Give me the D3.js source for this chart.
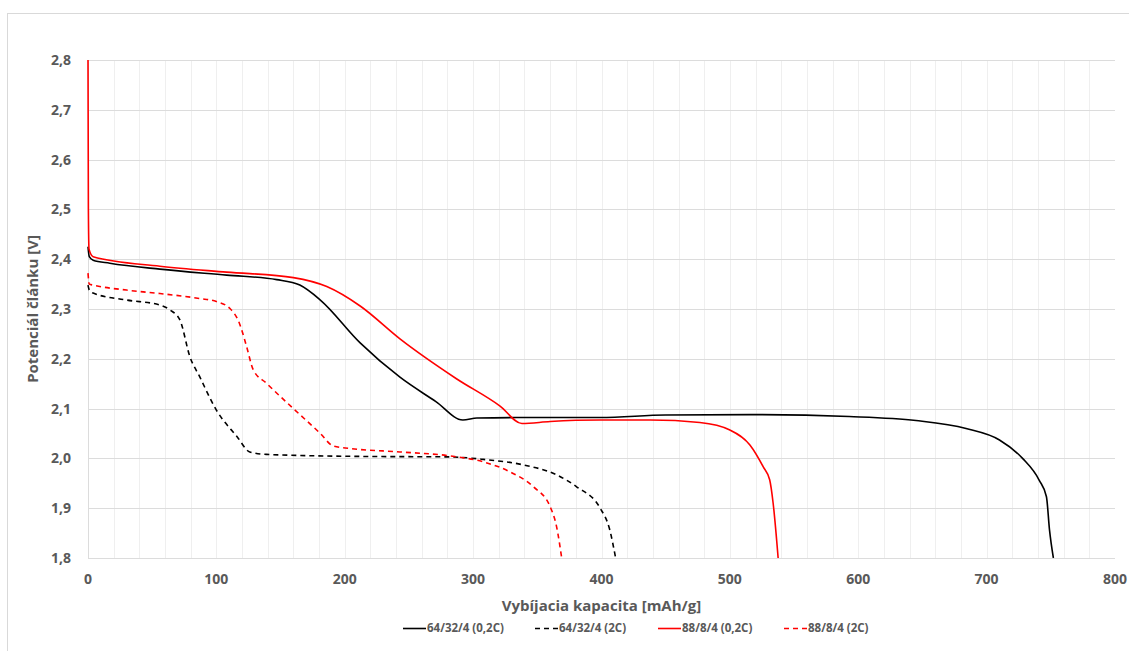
<!DOCTYPE html>
<html>
<head>
<meta charset="utf-8">
<script src="https://cdn.jsdelivr.net/npm/d3@7"></script>
<style>
  body { margin: 0; background: #fff; }
  svg { display: block; font-family: "Open Sans", "Noto Sans", sans-serif; }
</style>
</head>
<body>
<svg id="chart" width="1129" height="651"></svg>
<script>
// ---- data ----
const xTicks = [0, 100, 200, 300, 400, 500, 600, 700, 800];
const yTicks = [1.8, 1.9, 2.0, 2.1, 2.2, 2.3, 2.4, 2.5, 2.6, 2.7, 2.8];
const seriesNames = ["64/32/4 (0,2C)", "64/32/4 (2C)", "88/8/4 (0,2C)", "88/8/4 (2C)"];

const black02C = [
  [0, 2.425], [1, 2.405], [4, 2.398], [17, 2.392], [56, 2.380], [108, 2.368], [147, 2.359],
  [165, 2.348], [181, 2.318], [212, 2.232], [243, 2.163], [271, 2.114], [292, 2.077],
  [303, 2.081], [334, 2.082], [399, 2.082], [450, 2.087], [516, 2.088], [593, 2.084],
  [645, 2.076], [684, 2.060], [710, 2.037], [728, 2.000], [741, 1.956], [746.6, 1.923],
  [749, 1.856], [752, 1.800]
];
const black2C = [
  [0, 2.348], [1, 2.338], [4, 2.332], [30, 2.318], [56, 2.308], [64, 2.298], [71.6, 2.278],
  [79.4, 2.204], [87, 2.164], [100, 2.097], [116, 2.044], [126, 2.013], [139, 2.008],
  [212, 2.004], [282, 2.003], [308, 1.998], [339, 1.987], [365, 1.967], [380.6, 1.943],
  [399, 1.900], [406.5, 1.856], [411, 1.800]
];
const red02C = [
  [0, 2.800], [0.3, 2.500], [0.8, 2.420], [4, 2.405], [56, 2.386], [108, 2.374], [160, 2.363],
  [186, 2.345], [212, 2.306], [243, 2.240], [287, 2.160], [321, 2.105], [338, 2.070],
  [360, 2.074], [399, 2.077], [438, 2.077], [476.6, 2.072], [500, 2.057], [515.6, 2.027],
  [526, 1.983], [531, 1.957], [533.7, 1.910], [537.6, 1.800]
];
const red2C = [
  [0, 2.372], [1, 2.350], [4, 2.348], [30, 2.338], [56, 2.331], [87, 2.321], [100, 2.315],
  [110.6, 2.301], [118, 2.271], [123.6, 2.224], [128.7, 2.178], [139, 2.151], [160, 2.100],
  [181, 2.050], [191, 2.025], [204, 2.020], [243, 2.013], [282, 2.005], [308, 1.993],
  [328.7, 1.973], [347, 1.943], [360, 1.903], [365, 1.863], [369, 1.800]
];

const series = [
  { name: seriesNames[0], values: black02C, color: "#000000", dash: null },
  { name: seriesNames[1], values: black2C, color: "#000000", dash: "5,4" },
  { name: seriesNames[2], values: red02C, color: "#ff0000", dash: null },
  { name: seriesNames[3], values: red2C, color: "#ff0000", dash: "5,4" }
];

// ---- layout ----
const svg = d3.select("#chart");
const mLeft = 88, mRight = 1115, mTop = 60, mBottom = 558;
const x = d3.scaleLinear().domain([0, 800]).range([mLeft, mRight]);
const y = d3.scaleLinear().domain([1.8, 2.8]).range([mBottom, mTop]);

// chart border
svg.append("rect").attr("x", 7.5).attr("y", 13.5).attr("width", 1140).attr("height", 660)
  .attr("fill", "#fff").attr("stroke", "#d9d9d9").attr("stroke-width", 1);

// minor vertical grid (every 20)
const minorX = d3.range(20, 800, 20);
svg.append("g").selectAll("line").data(minorX).join("line")
  .attr("x1", d => Math.round(x(d)) + 0.5).attr("x2", d => Math.round(x(d)) + 0.5)
  .attr("y1", mTop).attr("y2", mBottom)
  .attr("stroke", "#efefef").attr("stroke-width", 1);

// horizontal grid
svg.append("g").selectAll("line").data(yTicks).join("line")
  .attr("x1", mLeft).attr("x2", mRight)
  .attr("y1", d => Math.round(y(d)) + 0.5).attr("y2", d => Math.round(y(d)) + 0.5)
  .attr("stroke", "#dcdcdc").attr("stroke-width", 1);

// left axis line
svg.append("line").attr("x1", mLeft + 0.5).attr("x2", mLeft + 0.5).attr("y1", mTop).attr("y2", mBottom)
  .attr("stroke", "#dcdcdc");

// y tick labels
const fmt = d => d3.format(".1f")(d).replace(".", ",");
svg.append("g").selectAll("text").data(yTicks).join("text")
  .attr("x", 71).attr("y", d => y(d)).attr("dy", "0.35em")
  .attr("text-anchor", "end").attr("font-size", 14).attr("font-weight", "bold")
  .attr("fill", "#595959").text(fmt);

// x tick labels
svg.append("g").selectAll("text").data(xTicks).join("text")
  .attr("x", d => x(d)).attr("y", 584)
  .attr("text-anchor", "middle").attr("font-size", 14).attr("font-weight", "bold")
  .attr("fill", "#595959").text(d => d);

// axis titles
svg.append("text").attr("x", (mLeft + mRight) / 2).attr("y", 611)
  .attr("text-anchor", "middle").attr("font-size", 15).attr("font-weight", "bold")
  .attr("fill", "#595959").text("Vybíjacia kapacita [mAh/g]");
svg.append("text").attr("transform", `translate(38,${(mTop + mBottom) / 2}) rotate(-90)`)
  .attr("text-anchor", "middle").attr("font-size", 15).attr("font-weight", "bold")
  .attr("fill", "#595959").text("Potenciál článku [V]");

// lines
const line = d3.line().x(d => x(d[0])).y(d => y(d[1])).curve(d3.curveMonotoneX);
svg.append("defs").append("clipPath").attr("id", "plotclip").append("rect")
  .attr("x", mLeft - 2).attr("y", mTop - 1).attr("width", mRight - mLeft + 4).attr("height", mBottom - mTop + 1);
const g = svg.append("g").attr("clip-path", "url(#plotclip)");
series.forEach(s => {
  g.append("path").attr("d", line(s.values)).attr("fill", "none")
    .attr("stroke", s.color).attr("stroke-width", 1.6)
    .attr("stroke-dasharray", s.dash);
});

// legend
const legendX = [403, 535, 658, 784];
const lg = svg.append("g");
series.forEach((s, i) => {
  const gx = legendX[i];
  lg.append("line").attr("x1", gx).attr("x2", gx + 23).attr("y1", 628.5).attr("y2", 628.5)
    .attr("stroke", s.color).attr("stroke-width", 1.6).attr("stroke-dasharray", s.dash);
  lg.append("text").attr("x", gx + 24).attr("y", 628).attr("dy", "0.35em")
    .attr("font-size", 11.5).attr("font-weight", "bold").attr("fill", "#595959").text(s.name);
});
</script>
</body>
</html>
